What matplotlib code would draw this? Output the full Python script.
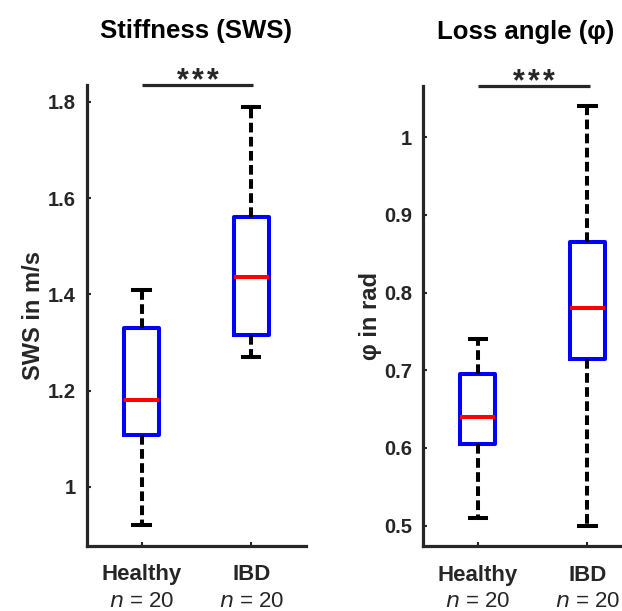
import numpy as np
import matplotlib
matplotlib.use("Agg")
import matplotlib.pyplot as plt
import matplotlib.transforms as mtransforms

plt.rcParams['font.family'] = ['Liberation Sans', 'DejaVu Sans']

groups = ["Healthy", "IBD"]
n_counts = [20, 20]

# box stats: whislo, q1, med, q3, whishi
sws_stats = [[0.92, 1.108, 1.18, 1.33, 1.41],
             [1.27, 1.315, 1.435, 1.56, 1.79]]
phi_stats = [[0.51, 0.605, 0.64, 0.695, 0.74],
             [0.50, 0.715, 0.78, 0.865, 1.04]]

sws_ticks = [1, 1.2, 1.4, 1.6, 1.8]
sws_ticklabels = ["1", "1.2", "1.4", "1.6", "1.8"]
phi_ticks = [0.5, 0.6, 0.7, 0.8, 0.9, 1.0]
phi_ticklabels = ["0.5", "0.6", "0.7", "0.8", "0.9", "1"]

dark = "#262626"
fig = plt.figure(figsize=(6.22, 6.11), dpi=100)
ax1 = fig.add_axes([0.1394, 0.1064, 0.3526, 0.7545])
ax2 = fig.add_axes([0.6800, 0.1056, 0.3526, 0.7537])


def draw_panel(ax, stats, ylim, ticks, ticklabels, title, ylabel, ylab_x, title_x):
    bstats = []
    for s, g in zip(stats, groups):
        bstats.append(dict(whislo=s[0], q1=s[1], med=s[2], q3=s[3], whishi=s[4],
                           fliers=[], label=g))
    ax.bxp(bstats, positions=[1, 2], widths=0.32, showfliers=False,
           boxprops=dict(color="blue", linewidth=2.9),
           medianprops=dict(color="red", linewidth=2.9),
           whiskerprops=dict(color="black", linewidth=2.9, linestyle=(0, (2.4, 1.1))),
           capprops=dict(color="black", linewidth=2.9),
           capwidths=0.15)
    ax.set_xlim(0.5, 2.5)
    ax.set_ylim(*ylim)
    ax.set_yticks(ticks)
    ax.set_yticklabels(ticklabels, fontsize=14.5, fontweight="bold", color=dark)
    ax.set_xticks([1, 2])
    ax.set_xticklabels(groups, fontsize=16, fontweight="bold", color=dark)
    ax.tick_params(direction="in", length=3, width=1.5, color=dark)
    ax.tick_params(axis="x", pad=13)
    ax.tick_params(axis="y", pad=8)
    for sp in ["top", "right"]:
        ax.spines[sp].set_visible(False)
    for sp in ["left", "bottom"]:
        ax.spines[sp].set_linewidth(2.3)
        ax.spines[sp].set_color(dark)
    ax.set_title(title, fontsize=18.5, fontweight="bold", pad=34, x=title_x)
    ax.set_ylabel(ylabel, fontsize=17, fontweight="bold", color=dark)
    ax.yaxis.set_label_coords(ylab_x, 0.5)
    trans = mtransforms.blended_transform_factory(ax.transData, ax.transAxes)
    for x, n in zip([1, 2], n_counts):
        ax.text(x, -0.12, r"$\it{n}$ = %d" % n, transform=trans, ha="center", va="center",
                fontsize=16, color=dark, clip_on=False)
    # significance bar
    ax.plot([1.0, 2.02], [1.0, 1.0], transform=trans, color=dark, linewidth=2.3,
            clip_on=False, solid_capstyle="butt")
    for dx in [-15, 0, 15]:
        st = mtransforms.offset_copy(trans, fig=fig, x=dx, y=-4, units="dots")
        ax.text(1.51, 1.0, "*", transform=st, ha="center", va="baseline",
                fontsize=22, fontweight="bold", color=dark, clip_on=False)


draw_panel(ax1, sws_stats, (0.877, 1.835), sws_ticks, sws_ticklabels,
           "Stiffness (SWS)", "SWS in m/s", -0.19, 0.5)
draw_panel(ax2, phi_stats, (0.473, 1.066), phi_ticks, phi_ticklabels,
           "Loss angle (φ)", "φ in rad", -0.185, 0.47)

fig.savefig("out.png", dpi=100)
